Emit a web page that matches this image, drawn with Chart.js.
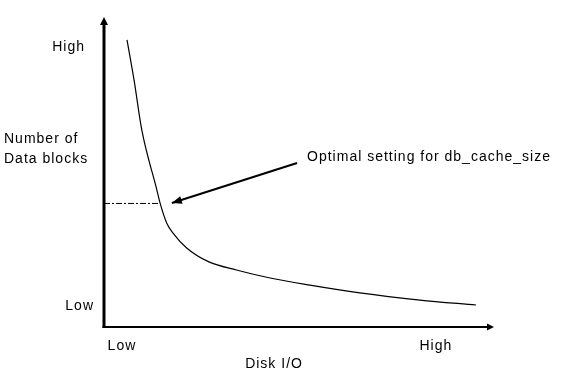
<!DOCTYPE html>
<html>
<head>
<meta charset="utf-8">
<script src="https://cdn.jsdelivr.net/npm/chart.js@4"></script>
<style>
  html, body { margin: 0; padding: 0; background: #fff; }
  #wrap { width: 567px; height: 375px; position: relative; }
</style>
</head>
<body>
<div id="wrap"><canvas id="cache-chart"></canvas></div>
<script>
// curve: data blocks vs disk I/O (arbitrary 0-100 units)
const diskIO = [5.9, 7.7, 9.7, 13.5, 14.4, 16.1, 17.7, 21.2, 26.9, 34.0, 42.6, 52.8, 65.6, 81.0, 95.4];
const dataBlocks = [92.6, 79.7, 63.5, 44.5, 39.9, 33.5, 30.3, 25.5, 21.0, 18.4, 15.8, 13.5, 11.0, 8.7, 7.1];

// optimal point and the pointer text
const optimalX = 14.4;
const optimalY = 39.85;
const pointerFrom = [49.5, 52.9];
const pointerTo = [17.4, 40.0];
const pointerText = 'Optimal setting for db_cache_size';

const xTickLabels = ['Low', 'High'];
const xTickValues = [4.6, 85.1];
const yTickLabels = ['High', 'Low'];
const yTickValues = [90.3, 6.8];
const xTitle = 'Disk I/O';
const yTitle = ['Number of', 'Data blocks'];

const FONT = '14px "Liberation Sans", Arial, sans-serif';

function arrowHead(ctx, x1, y1, x2, y2, len, half) {
    const a = Math.atan2(y2 - y1, x2 - x1);
    ctx.beginPath();
    ctx.moveTo(x2, y2);
    ctx.lineTo(x2 - len * Math.cos(a) + half * Math.sin(a), y2 - len * Math.sin(a) - half * Math.cos(a));
    ctx.lineTo(x2 - len * Math.cos(a) - half * Math.sin(a), y2 - len * Math.sin(a) + half * Math.cos(a));
    ctx.closePath();
    ctx.fill();
}

const drawing = {
    id: 'drawing',
    afterDatasetsDraw(chart) {
        const ctx = chart.ctx;
        const x = chart.scales.x, y = chart.scales.y;
        const x0 = x.getPixelForValue(0), y0 = y.getPixelForValue(0);
        ctx.save();
        ctx.fillStyle = '#000';
        ctx.strokeStyle = '#000';

        // y axis
        ctx.lineWidth = 3;
        ctx.beginPath();
        ctx.moveTo(x0, y0 + 1);
        ctx.lineTo(x0, y.getPixelForValue(100) + 6);
        ctx.stroke();
        arrowHead(ctx, x0, y0, x0, y.getPixelForValue(100), 8, 4);

        // x axis
        ctx.lineWidth = 2;
        ctx.beginPath();
        ctx.moveTo(x0 - 1.5, y0);
        ctx.lineTo(x.getPixelForValue(100) - 5, y0);
        ctx.stroke();
        arrowHead(ctx, x0, y0, x.getPixelForValue(100), y0, 7, 3.5);

        // pointer arrow head
        const pm = chart.getDatasetMeta(2).data;
        arrowHead(ctx, pm[0].x, pm[0].y, pm[1].x, pm[1].y, 10, 4);

        ctx.font = FONT;
        ctx.letterSpacing = '1px';
        ctx.textBaseline = 'middle';

        ctx.textAlign = 'left';
        ctx.fillText(pointerText, pm[0].x + 10, pm[0].y - 6);

        ctx.textAlign = 'center';
        xTickLabels.forEach((t, i) => ctx.fillText(t, x.getPixelForValue(xTickValues[i]), y0 + 19));
        ctx.fillText(xTitle, (x.getPixelForValue(36.2) + x.getPixelForValue(51.0)) / 2, y0 + 37);

        ctx.textAlign = 'right';
        yTickLabels.forEach((t, i) => ctx.fillText(t, x0 - (i === 0 ? 19 : 10), y.getPixelForValue(yTickValues[i])));

        ctx.textAlign = 'left';
        ctx.textBaseline = 'alphabetic';
        yTitle.forEach((t, i) => ctx.fillText(t, 4, 143 + i * 20));
        ctx.restore();
    }
};

new Chart(document.getElementById('cache-chart'), {
    type: 'line',
    data: {
        datasets: [
            {
                data: diskIO.map((v, i) => ({ x: v, y: dataBlocks[i] })),
                borderColor: '#000',
                borderWidth: 1.2,
                cubicInterpolationMode: 'monotone',
                pointRadius: 0
            },
            {
                data: [{ x: 0, y: optimalY }, { x: optimalX, y: optimalY }],
                borderColor: '#000',
                borderWidth: 1,
                borderDash: [6, 2, 2, 2],
                pointRadius: 0
            },
            {
                data: [{ x: pointerFrom[0], y: pointerFrom[1] }, { x: pointerTo[0], y: pointerTo[1] }],
                borderColor: '#000',
                borderWidth: 2,
                pointRadius: 0
            }
        ]
    },
    options: {
        responsive: true,
        maintainAspectRatio: false,
        animation: false,
        clip: false,
        layout: {
            padding: { left: 104, right: 73, top: 17, bottom: 48 }
        },
        plugins: {
            legend: { display: false },
            tooltip: { enabled: false }
        },
        scales: {
            x: { type: 'linear', min: 0, max: 100, display: false },
            y: { type: 'linear', min: 0, max: 100, display: false }
        }
    },
    plugins: [drawing]
});
</script>
</body>
</html>
